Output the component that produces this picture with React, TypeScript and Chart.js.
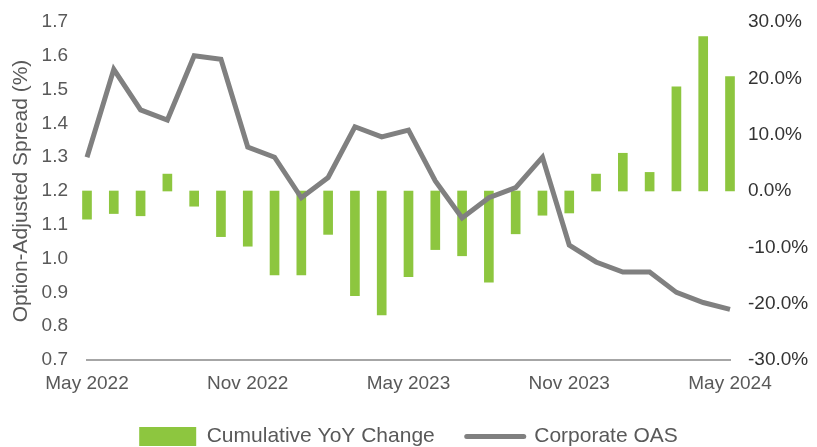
import React, { useEffect, useRef } from "react";
import { Chart, registerables } from "chart.js";

Chart.register(...registerables);

const months = [
  "May 2022", "Jun 2022", "Jul 2022", "Aug 2022", "Sep 2022", "Oct 2022",
  "Nov 2022", "Dec 2022", "Jan 2023", "Feb 2023", "Mar 2023", "Apr 2023",
  "May 2023", "Jun 2023", "Jul 2023", "Aug 2023", "Sep 2023", "Oct 2023",
  "Nov 2023", "Dec 2023", "Jan 2024", "Feb 2024", "Mar 2024", "Apr 2024",
  "May 2024",
];

// Corporate OAS (%), left axis
const corporateOAS = [
  1.30, 1.56, 1.44, 1.41, 1.60, 1.59, 1.33, 1.30, 1.18, 1.24, 1.39, 1.36,
  1.38, 1.23, 1.12, 1.18, 1.21, 1.30, 1.04, 0.99, 0.96, 0.96, 0.90, 0.87,
  0.85,
];

// Cumulative YoY change (%), right axis
const cumulativeYoY = [
  -5.0, -4.0, -4.4, 3.0, -2.7, -8.1, -9.8, -14.9, -14.9, -7.7, -18.6, -22.0,
  -15.2, -10.4, -11.5, -16.2, -7.6, -4.3, -3.9, 3.0, 6.7, 3.3, 18.5, 27.4,
  20.3,
];

const shownTickEvery = 6;

const GREEN = "#8dc63f";
const GRAY = "#808080";
const FONT = "'Liberation Sans', Arial, sans-serif";

export default function App() {
  const ref = useRef<HTMLCanvasElement | null>(null);

  useEffect(() => {
    if (!ref.current) return;
    const fitY = (s: any) => {
      s.width = 87;
      s.paddingTop = 10;
      s.paddingBottom = 10;
    };
    const chart = new Chart(ref.current, {
      data: {
        labels: months,
        datasets: [
          {
            type: "bar",
            label: "Cumulative YoY Change",
            data: cumulativeYoY,
            backgroundColor: GREEN,
            borderWidth: 0,
            barThickness: 9,
            yAxisID: "yRight",
            order: 1,
            clip: false as any,
          },
          {
            type: "line",
            label: "Corporate OAS",
            data: corporateOAS,
            borderColor: GRAY,
            backgroundColor: GRAY,
            borderWidth: 5,
            pointRadius: 0,
            tension: 0,
            yAxisID: "yLeft",
            order: 0,
            clip: false as any,
          },
        ] as any,
      },
      options: {
        responsive: false,
        animation: false,
        devicePixelRatio: 1,
        layout: { padding: { top: 22, left: 0, right: 0, bottom: -10 } },
        plugins: {
          tooltip: { enabled: false },
          legend: {
            position: "bottom",
            labels: {
              usePointStyle: true,
              pointStyleWidth: 57,
              boxHeight: 19,
              padding: 32,
              color: "#595959",
              font: { family: FONT, size: 21 },
              generateLabels: () => [
                {
                  text: "Cumulative YoY Change",
                  fillStyle: GREEN,
                  strokeStyle: GREEN,
                  lineWidth: 0,
                  pointStyle: "rect",
                  datasetIndex: 0,
                  hidden: false,
                  fontColor: "#595959",
                } as any,
                {
                  text: "Corporate OAS",
                  fillStyle: GRAY,
                  strokeStyle: GRAY,
                  lineWidth: 5,
                  lineCap: "round",
                  pointStyle: "line",
                  datasetIndex: 1,
                  hidden: false,
                  fontColor: "#595959",
                } as any,
              ],
            },
          },
        },
        scales: {
          x: {
            type: "category",
            offset: false,
            grid: { display: false, drawTicks: false },
            border: { display: true, color: "#a6a6a6", width: 2 },
            ticks: {
              autoSkip: false,
              maxRotation: 0,
              padding: 12,
              color: "#595959",
              font: { family: FONT, size: 19 },
              callback: (_v: any, i: number) =>
                i % shownTickEvery === 0 ? months[i] : "",
            },
            afterFit: (s: any) => {
              s.height = 34;
            },
          },
          yLeft: {
            type: "linear",
            position: "left",
            min: 0.7,
            max: 1.7,
            grid: { display: false, drawTicks: false },
            border: { display: false },
            ticks: {
              stepSize: 0.1,
              padding: 19,
              color: "#595959",
              font: { family: FONT, size: 19 },
              callback: (v: any) => Number(v).toFixed(1),
            },
            title: {
              display: true,
              text: "Option-Adjusted Spread (%)",
              color: "#595959",
              font: { family: FONT, size: 21 },
              padding: { top: 9, bottom: 0 },
            },
            afterFit: fitY,
          },
          yRight: {
            type: "linear",
            position: "right",
            min: -30,
            max: 30,
            grid: { display: false, drawTicks: false },
            border: { display: false },
            ticks: {
              stepSize: 10,
              padding: 18,
              color: "#333333",
              font: { family: FONT, size: 19 },
              callback: (v: any) => Number(v).toFixed(1) + "%",
            },
            afterFit: fitY,
          },
        },
      } as any,
    });
    return () => chart.destroy();
  }, []);

  return (
    <div style={{ position: "fixed", left: 0, top: 0, width: 817, height: 447, background: "#ffffff" }}>
      <canvas ref={ref} width={817} height={447} style={{ display: "block" }} />
    </div>
  );
}
